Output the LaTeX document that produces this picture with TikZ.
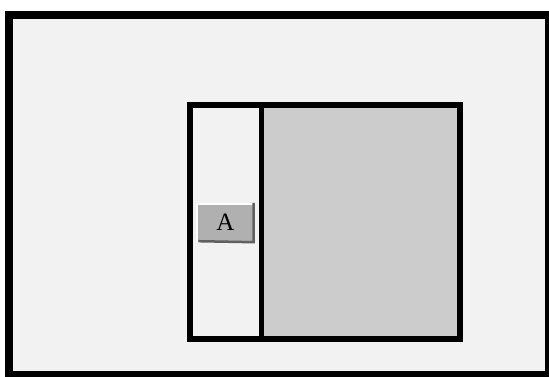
\documentclass[tikz,border=0pt]{standalone}
\usepackage{fontspec}
\setmainfont{Liberation Serif}
\definecolor{panelbg}{HTML}{F2F2F2}
\definecolor{darkpanel}{HTML}{CCCCCC}
\definecolor{btnfill}{HTML}{B0B0B0}
\definecolor{btnshadow}{HTML}{606060}
\tikzset{
  frame/.style={draw=black, line width=8pt},
  innerframe/.style={draw=black, line width=5.5pt},
  btn/.style={fill=btnfill, minimum width=56pt, minimum height=37pt, inner sep=0pt, font=\fontsize{25}{28}\selectfont}
}
\begin{document}
\begin{tikzpicture}[x=1pt,y=-1pt]
\useasboundingbox (0,0) rectangle (549,376);
\fill[white] (0,0) rectangle (549,376);
\begin{scope}
\clip (0,0) rectangle (549,376);
\path[frame, fill=panelbg] (8.5,15) rectangle (549,375);
\end{scope}
\path[fill=darkpanel] (261.5,105) rectangle (460,339);
\path[innerframe] (190,105) rectangle (460,339);
\coordinate (dtop) at (261.5,105);
\coordinate (dbot) at (261.5,339);
\draw[innerframe] (dtop) -- (dbot);
\node[btn] (a) at (225.5,222.5) {A};
\draw[white, line width=2pt] (a.south west) -- (a.north west) -- (a.north east);
\draw[btnshadow, line width=2.5pt] ([xshift=1pt]a.south west) -- ([yshift=-1pt]a.south east) -- ([yshift=1pt]a.north east);
\end{tikzpicture}
\end{document}
